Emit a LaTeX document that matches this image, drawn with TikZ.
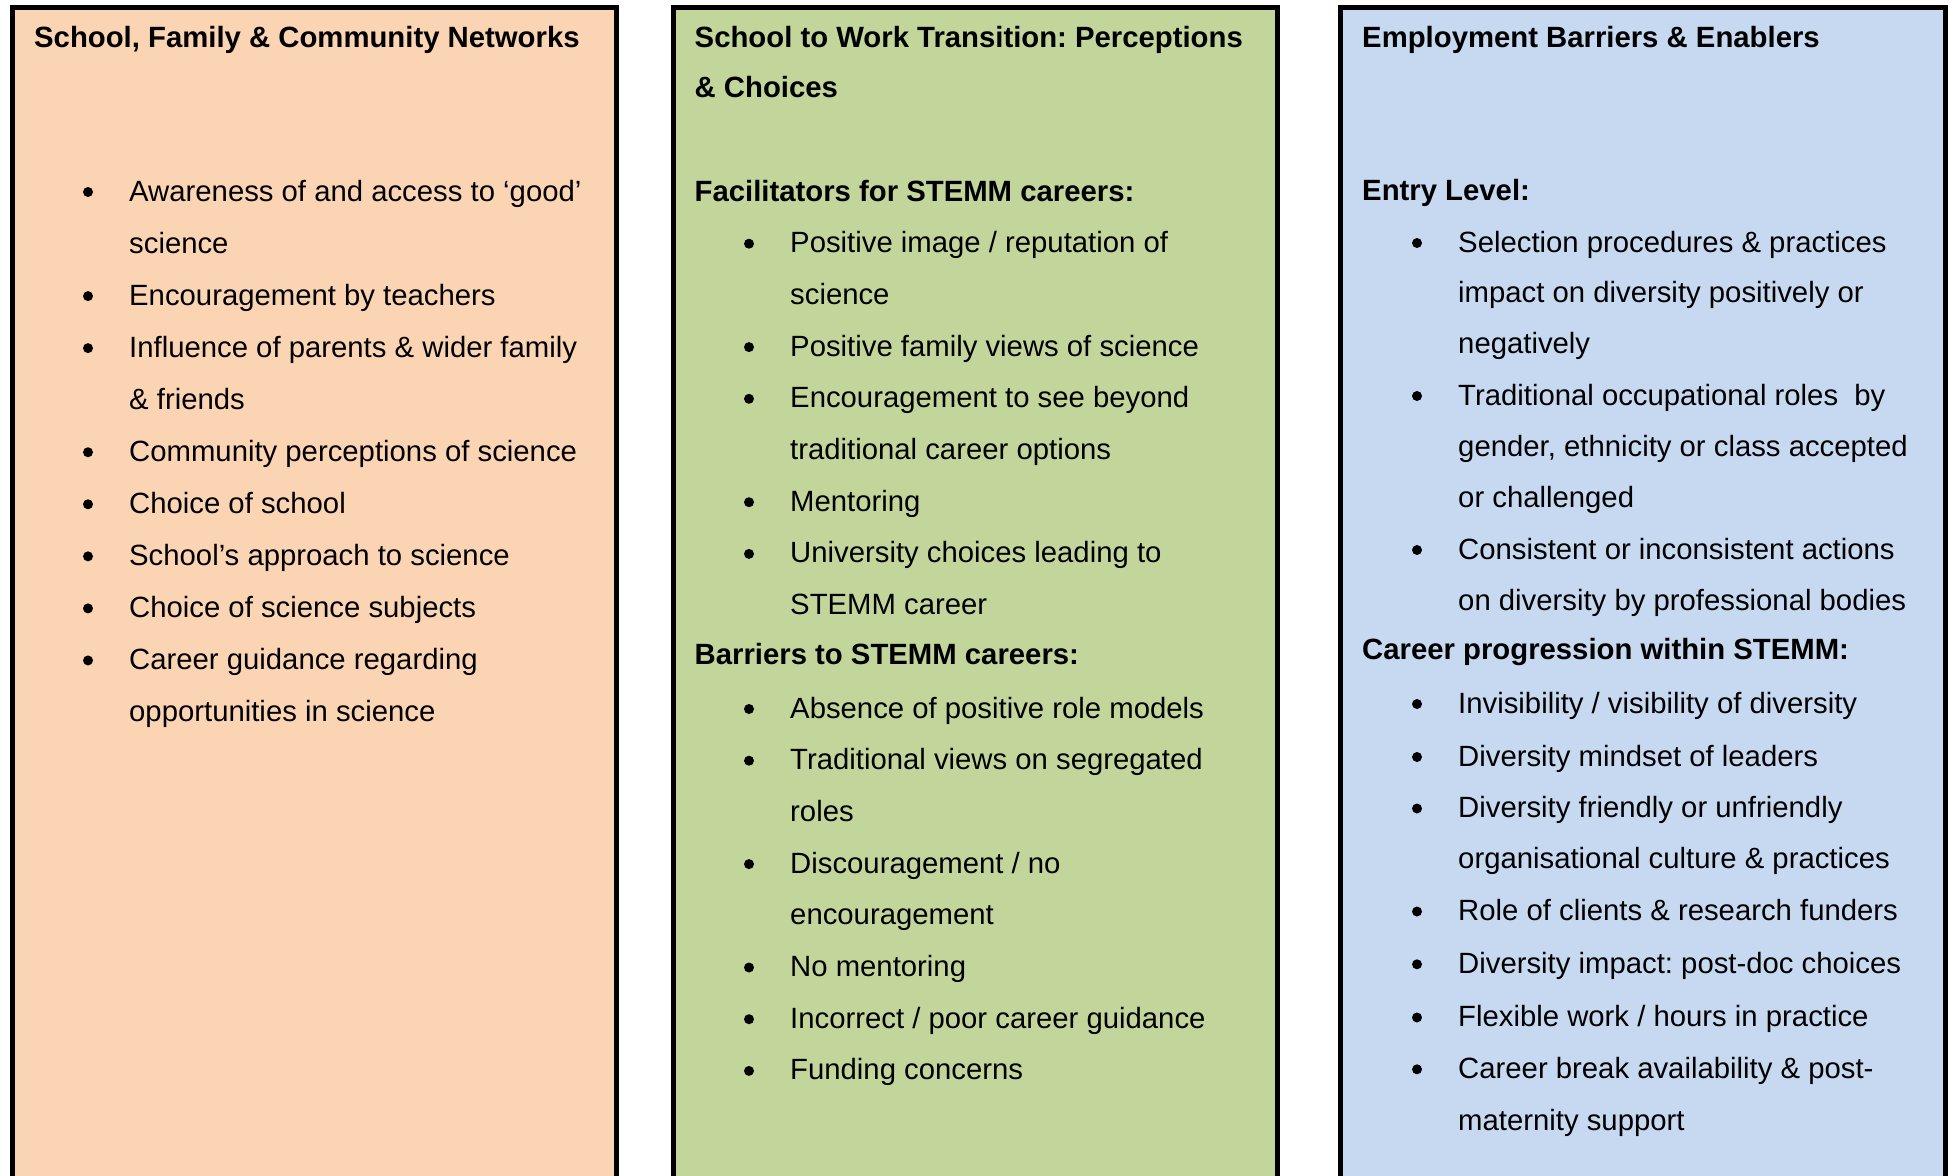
\documentclass[tikz,border=0pt]{standalone}
\usepackage{fontspec}
\setmainfont{Liberation Sans}
\frenchspacing
\definecolor{peach}{HTML}{FBD4B4}
\definecolor{olivel}{HTML}{C2D69B}
\definecolor{bluel}{HTML}{C6D9F1}
% #1 name, #2 x of text, #3 baseline y
\newcommand\SubLine[4]{\node[subhd] (#1) at (#2,{#3}) {#4};}
\newcommand\BulLine[4]{\node[dotmark] (#1d) at (#2-41,{#3-9}) {};
  \node[bodytxt] (#1) at (#2,{#3}) {#4};}
\newcommand\ContLine[4]{\node[bodytxt] (#1) at (#2,{#3}) {#4};}
\newcommand\LA[1]{201+52.05*#1}
\newcommand\LB[1]{201+51.7*#1}
\begin{document}
\begin{tikzpicture}[x=1pt,y=-1pt,
  panel/.style={draw=black,line width=5pt,rectangle,anchor=north west,
    minimum width=604.6pt,minimum height=1200pt,inner sep=0pt,outer sep=0pt},
  subhd/.style={anchor=base west,inner sep=0pt,font=\fontsize{29.3}{51.7}\selectfont\bfseries},
  bodytxt/.style={anchor=base west,inner sep=0pt,font=\fontsize{29.3}{51.7}\selectfont},
  dotmark/.style={circle,fill=black,inner sep=0pt,minimum size=10pt}]
\useasboundingbox (0,0) rectangle (1953,1175);
\clip (0,0) rectangle (1953,1175);
\node[panel,fill=peach] (boxA) at (12,7.5) {};
\node[panel,fill=olivel] (boxB) at (673,7.5) {};
\node[panel,fill=bluel] (boxC) at (1340.6,7.5) {};
% ---- left column
\node[subhd] (hA) at (34,47) {School, Family \& Community Networks};
\BulLine{a0}{129}{\LA{0}}{Awareness of and access to ‘good’}
\ContLine{a1}{129}{\LA{1}}{science}
\BulLine{a2}{129}{\LA{2}}{Encouragement by teachers}
\BulLine{a3}{129}{\LA{3}}{Influence of parents \& wider family}
\ContLine{a4}{129}{\LA{4}}{\& friends}
\BulLine{a5}{129}{\LA{5}}{Community perceptions of science}
\BulLine{a6}{129}{\LA{6}}{Choice of school}
\BulLine{a7}{129}{\LA{7}}{School’s approach to science}
\BulLine{a8}{129}{\LA{8}}{Choice of science subjects}
\BulLine{a9}{129}{\LA{9}}{Career guidance regarding}
\ContLine{a10}{129}{\LA{10}}{opportunities in science}
% ---- middle column
\node[subhd] (hB1) at (694.5,47) {School to Work Transition: Perceptions};
\node[subhd] (hB2) at (694.5,97) {\& Choices};
\SubLine{b0}{694.5}{\LB{0}}{Facilitators for STEMM careers:}
\BulLine{b1}{790}{\LB{1}}{Positive image / reputation of}
\ContLine{b2}{790}{\LB{2}}{science}
\BulLine{b3}{790}{\LB{3}}{Positive family views of science}
\BulLine{b4}{790}{\LB{4}}{Encouragement to see beyond}
\ContLine{b5}{790}{\LB{5}}{traditional career options}
\BulLine{b6}{790}{\LB{6}}{Mentoring}
\BulLine{b7}{790}{\LB{7}}{University choices leading to}
\ContLine{b8}{790}{\LB{8}}{STEMM career}
\SubLine{b9}{694.5}{\LB{9}-2}{Barriers to STEMM careers:}
\BulLine{b10}{790}{\LB{10}}{Absence of positive role models}
\BulLine{b11}{790}{\LB{11}}{Traditional views on segregated}
\ContLine{b12}{790}{\LB{12}}{roles}
\BulLine{b13}{790}{\LB{13}}{Discouragement / no}
\ContLine{b14}{790}{\LB{14}}{encouragement}
\BulLine{b15}{790}{\LB{15}}{No mentoring}
\BulLine{b16}{790}{\LB{16}}{Incorrect / poor career guidance}
\BulLine{b17}{790}{\LB{17}}{Funding concerns}
% ---- right column
\node[subhd] (hC) at (1362,47) {Employment Barriers \& Enablers};
\SubLine{c0}{1362}{200}{Entry Level:}
\BulLine{c1}{1458}{252}{Selection procedures \& practices}
\ContLine{c2}{1458}{302.5}{impact on diversity positively or}
\ContLine{c3}{1458}{353}{negatively}
\BulLine{c4}{1458}{405}{Traditional occupational roles \ by}
\ContLine{c5}{1458}{456.5}{gender, ethnicity or class accepted}
\ContLine{c6}{1458}{507.5}{or challenged}
\BulLine{c7}{1458}{559}{Consistent or inconsistent actions}
\ContLine{c8}{1458}{610}{on diversity by professional bodies}
\SubLine{c9}{1362}{659}{Career progression within STEMM:}
\BulLine{c10}{1458}{713}{Invisibility / visibility of diversity}
\BulLine{c11}{1458}{766}{Diversity mindset of leaders}
\BulLine{c12}{1458}{817.5}{Diversity friendly or unfriendly}
\ContLine{c13}{1458}{868.5}{organisational culture \& practices}
\BulLine{c14}{1458}{920.5}{Role of clients \& research funders}
\BulLine{c15}{1458}{973.3}{Diversity impact: post-doc choices}
\BulLine{c16}{1458}{1026.5}{Flexible work / hours in practice}
\BulLine{c17}{1458}{1078.3}{Career break availability \& post-}
\ContLine{c18}{1458}{1130}{maternity support}
\end{tikzpicture}
\end{document}
